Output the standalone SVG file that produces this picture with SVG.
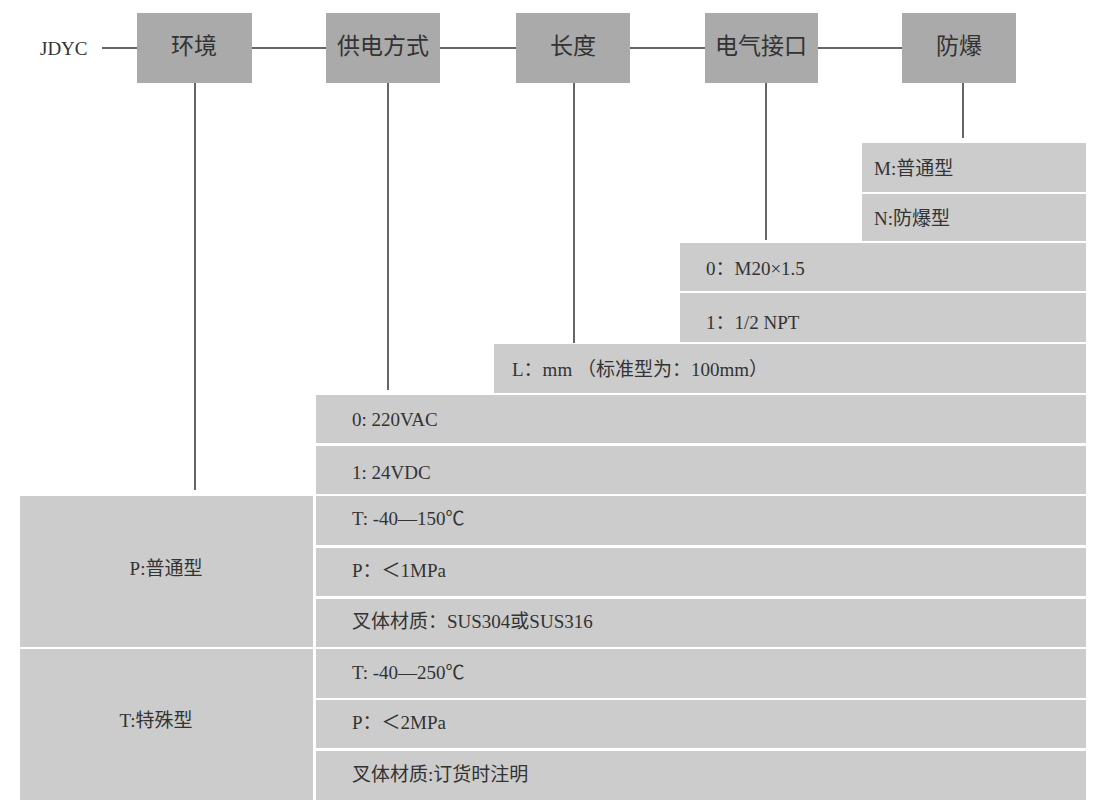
<svg xmlns="http://www.w3.org/2000/svg" width="1100" height="808" viewBox="0 0 1100 808">
<style>
text{font-family:"Liberation Serif","Noto Sans CJK SC",serif;fill:#333;font-size:19px;dominant-baseline:central}
.h{fill:#aaa}
.r{fill:#ccc}
.t{font-size:23px;text-anchor:middle}
.c line{stroke:#666;stroke-width:2}
</style>
<rect width="1100" height="808" fill="#fff"/>
<g class="c" id="connectors">
<line x1="102" y1="48" x2="137" y2="48"/><line x1="252" y1="48" x2="326" y2="48"/><line x1="440" y1="48" x2="516" y2="48"/><line x1="630" y1="48" x2="705" y2="48"/><line x1="818" y1="48" x2="902" y2="48"/>
<line x1="195" y1="83" x2="195" y2="490"/><line x1="388" y1="83" x2="388" y2="390"/><line x1="574" y1="83" x2="574" y2="343"/><line x1="766" y1="83" x2="766" y2="240"/><line x1="963" y1="83" x2="963" y2="138"/>
</g>
<text x="40" y="48" font-size="21">JDYC</text>
<g id="n1"><rect class="h" x="137" y="13" width="115" height="70"/><text class="t" x="194" y="46">环境</text></g>
<g id="n2"><rect class="h" x="326" y="13" width="114" height="70"/><text class="t" x="383" y="46">供电方式</text></g>
<g id="n3"><rect class="h" x="516" y="13" width="114" height="70"/><text class="t" x="573" y="46">长度</text></g>
<g id="n4"><rect class="h" x="705" y="13" width="113" height="70"/><text class="t" x="761" y="46">电气接口</text></g>
<g id="n5"><rect class="h" x="902" y="13" width="114" height="70"/><text class="t" x="959" y="46">防爆</text></g>
<g id="rows">
<rect class="r" x="862" y="143" width="224" height="49"/><text x="874" y="168">M:普通型</text>
<rect class="r" x="862" y="194" width="224" height="47"/><text x="874" y="218">N:防爆型</text>
<rect class="r" x="680" y="243" width="406" height="48"/><text x="706" y="268">0：M20×1.5</text>
<rect class="r" x="680" y="293" width="406" height="49"/><text x="706" y="322">1：1/2 NPT</text>
<rect class="r" x="494" y="344" width="592" height="49"/><text x="512" y="369">L：mm （标准型为：100mm）</text>
<rect class="r" x="316" y="395" width="770" height="48"/><text x="352" y="419">0: 220VAC</text>
<rect class="r" x="316" y="446" width="770" height="48"/><text x="352" y="472">1: 24VDC</text>
<rect class="r" x="20" y="496" width="293" height="151"/><text x="166" y="568" text-anchor="middle">P:普通型</text>
<rect class="r" x="20" y="649" width="293" height="151"/><text x="156" y="720" text-anchor="middle">T:特殊型</text>
<rect class="r" x="316" y="496" width="770" height="49"/><text x="352" y="518">T: -40—150℃</text>
<rect class="r" x="316" y="548" width="770" height="48"/><text x="352" y="570">P：＜1MPa</text>
<rect class="r" x="316" y="599" width="770" height="48"/><text x="352" y="621">叉体材质：SUS304或SUS316</text>
<rect class="r" x="316" y="649" width="770" height="49"/><text x="352" y="672">T:  -40—250℃</text>
<rect class="r" x="316" y="700" width="770" height="48"/><text x="352" y="722">P：＜2MPa</text>
<rect class="r" x="316" y="751" width="770" height="49"/><text x="352" y="774">叉体材质:订货时注明</text>
</g>
</svg>
